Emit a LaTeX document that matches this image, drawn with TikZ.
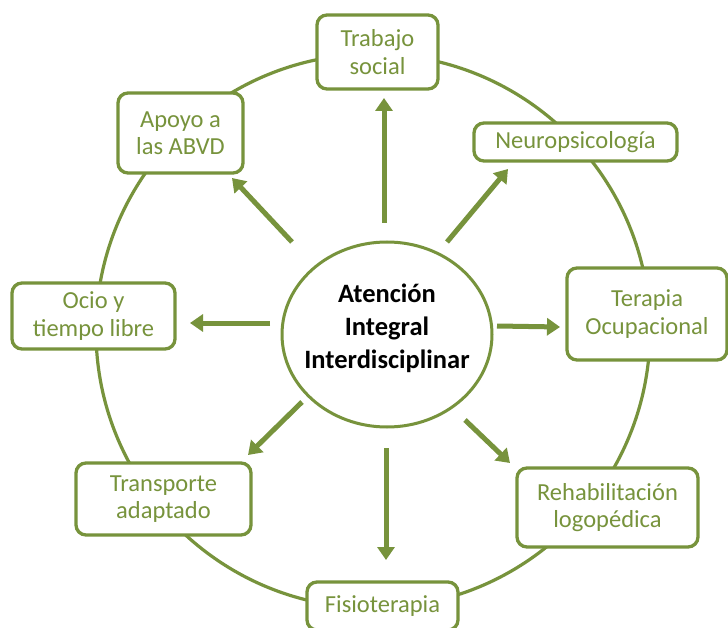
\documentclass[tikz,border=0pt]{standalone}
\usepackage{fontspec}
\setmainfont{Carlito}
\usetikzlibrary{arrows.meta,shapes.geometric}
\definecolor{olivegreen}{HTML}{77933C}
\begin{document}
\begin{tikzpicture}[x=1pt,y=-1pt,
  box/.style={draw=olivegreen, line width=3.3pt, rounded corners=10pt, fill=white,
    text=olivegreen, font=\fontsize{24.5}{27.5}\selectfont, align=center, inner sep=0pt},
  arr/.style={draw=olivegreen, line width=5pt, -{Triangle[width=17pt,length=13pt]}},
  ring/.style={draw=olivegreen, line width=3.2pt},
  hub/.style={draw=olivegreen, line width=3pt, ellipse, fill=white, inner sep=0pt},
  hubtext/.style={font=\fontsize{26.5}{33}\selectfont\bfseries, align=center, text=black, inner sep=0pt}]
\clip (0,0) rectangle (728,628);
\fill[white] (0,0) rectangle (728,628);
% outer ring
\draw[ring] (373,331) circle[radius=277pt];
% boxes
\node[box, minimum width=121pt, minimum height=74pt] (trabajo) at (377.5,52) {Trabajo\\social};
\node[box, minimum width=125pt, minimum height=80pt] (apoyo) at (180.5,133) {Apoyo a\\las ABVD};
\node[box, minimum width=203pt, minimum height=38pt] (neuro) at (575.5,142) {Neuropsicología};
\node[box, minimum width=160pt, minimum height=92pt] (terapia) at (647,314) {Terapia\\Ocupacional};
\node[box, minimum width=163pt, minimum height=66pt] (ocio) at (93.5,316) {Ocio y\\tiempo libre};
\node[box, minimum width=175pt, minimum height=72pt] (transporte) at (163.5,499) {Transporte\\adaptado};
\node[box, minimum width=181pt, minimum height=79pt] (rehab) at (607.5,507.5) {Rehabilitación\\logopédica};
\node[box, minimum width=151pt, minimum height=48pt] (fisio) at (382.5,606) {Fisioterapia};
% hub
\node[hub, minimum width=210pt, minimum height=185pt] (hub) at (387,334.5) {};
\node[hubtext] (hubtxt) at (387,328) {Atención\\Integral\\Interdisciplinar};
% arrow end points
\coordinate (s1) at (384,223); \coordinate (t1) at (384,98);
\coordinate (s2) at (292,242); \coordinate (t2) at (232,178);
\coordinate (s3) at (447,242); \coordinate (t3) at (508,169);
\coordinate (s4) at (497,326); \coordinate (t4) at (560,327);
\coordinate (s5) at (270,323); \coordinate (t5) at (190,323);
\coordinate (s6) at (302,402); \coordinate (t6) at (248,455);
\coordinate (s7) at (465,420); \coordinate (t7) at (510,463);
\coordinate (s8) at (386,448); \coordinate (t8) at (386,560);
\draw[arr] (s1) -- (t1);
\draw[arr] (s2) -- (t2);
\draw[arr] (s3) -- (t3);
\draw[arr] (s4) -- (t4);
\draw[arr] (s5) -- (t5);
\draw[arr] (s6) -- (t6);
\draw[arr] (s7) -- (t7);
\draw[arr] (s8) -- (t8);
\end{tikzpicture}
\end{document}
